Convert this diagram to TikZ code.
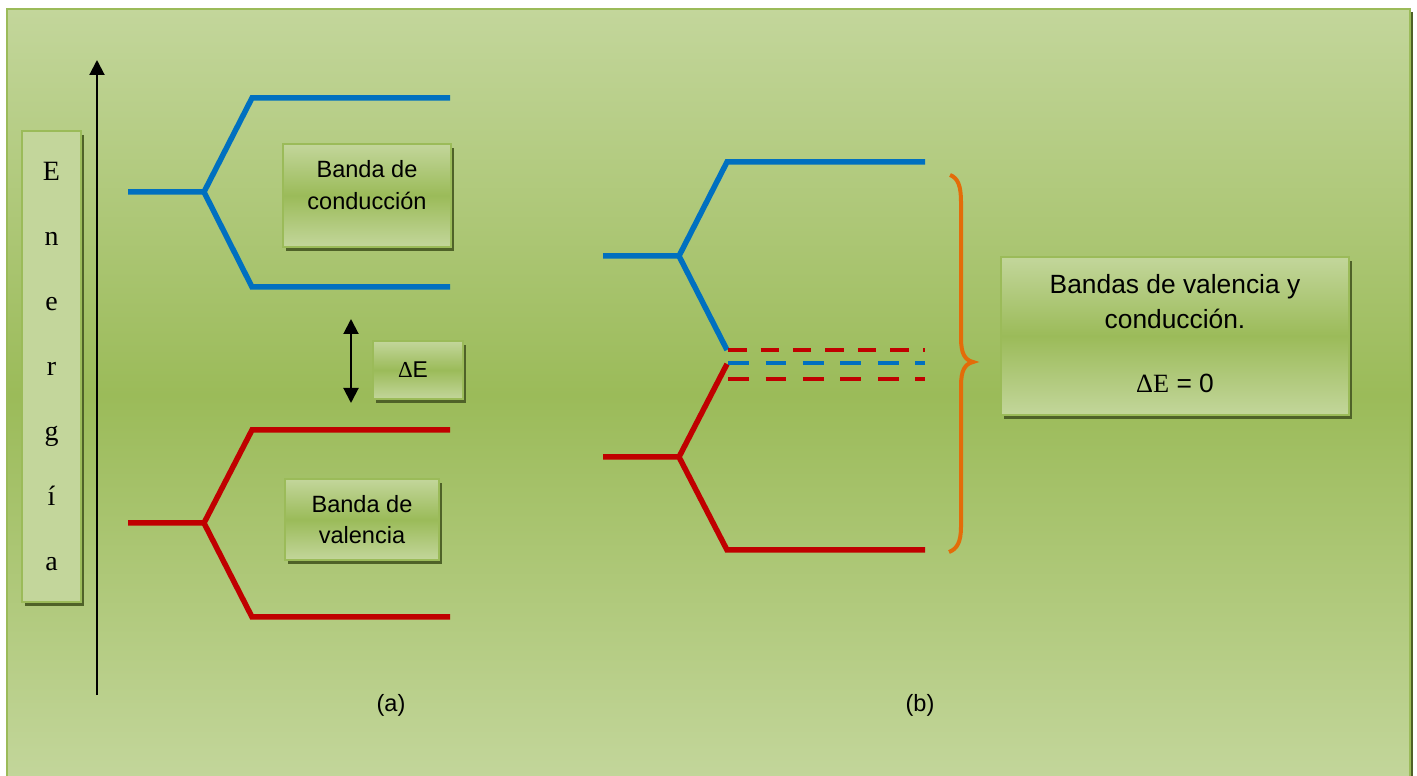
\documentclass[tikz,border=0pt]{standalone}
\usepackage{fontspec}
\setmainfont{Liberation Sans}
\newfontfamily\serifface{Liberation Serif}
\usetikzlibrary{shadows,arrows.meta}

\definecolor{bgLight}{HTML}{C3D69B}
\definecolor{bgDark}{HTML}{9BBB59}
\definecolor{frameCol}{HTML}{9BBB59}
\definecolor{shadowCol}{HTML}{4F6228}
\definecolor{bandBlue}{HTML}{0070C0}
\definecolor{bandRed}{HTML}{C00000}
\definecolor{braceOrange}{HTML}{E36C09}

\tikzset{
  boxshadow/.style={drop shadow={shadow xshift=0.06cm,shadow yshift=-0.08cm,fill=shadowCol,opacity=1}},
  textbox/.style={draw=frameCol, line width=0.05cm, top color=bgLight, bottom color=bgLight,
    middle color=bgDark, boxshadow, inner sep=0pt, align=center},
  flatbox/.style={draw=frameCol, line width=0.05cm, fill=bgLight, boxshadow, inner sep=0pt, align=center},
  bandline/.style={line width=0.11cm, line join=miter},
  bluebar/.style={bandline, draw=bandBlue},
  redbar/.style={bandline, draw=bandRed},
  axisarrow/.style={line width=0.04cm, -{Triangle[length=0.3cm,width=0.3cm]}},
  gaparrow/.style={line width=0.04cm, {Triangle[length=0.3cm,width=0.3cm]}-{Triangle[length=0.3cm,width=0.3cm]}},
  labeltext/.style={font=\fontsize{13.4}{17.9}\selectfont, align=center},
}

\begin{document}
\begin{tikzpicture}[x=0.02cm,y=-0.02cm]
  \useasboundingbox (0,0) rectangle (1417,776);
  \clip (0,0) rectangle (1417,776);

  % background panel with its frame
  \fill[top color=bgLight, bottom color=bgLight, middle color=bgDark] (7,9) rectangle (1410,781);
  \draw[shadowCol, line width=0.04cm] (1412,12) -- (1412,776);
  \draw[frameCol, line width=0.05cm] (7,781) -- (7,9) -- (1410,9) -- (1410,781);

  % energy axis
  \node[flatbox, minimum width=1.18cm, minimum height=9.42cm] (energia) at (51.5,366.5) {};
  \node[font=\serifface\fontsize{15.9}{37}\selectfont, align=center] (energiatxt) at (energia.center)
    {E\\n\\e\\r\\g\\í\\a};
  \coordinate (axisbot) at (97,695);
  \coordinate (axistop) at (97,60);
  \draw[axisarrow] (axisbot) -- (axistop);

  % (a) separated bands
  \coordinate (a-bs) at (128,192);
  \coordinate (a-bj) at (204,192);
  \coordinate (a-bu) at (252,98);
  \coordinate (a-bue) at (450,98);
  \coordinate (a-bd) at (252,287);
  \coordinate (a-bde) at (450,287);
  \draw[bluebar] (a-bs) -- (a-bj) -- (a-bu) -- (a-bue);
  \draw[bluebar] (a-bj) -- (a-bd) -- (a-bde);

  \coordinate (a-rs) at (128,523);
  \coordinate (a-rj) at (204,523);
  \coordinate (a-ru) at (252,430);
  \coordinate (a-rue) at (450,430);
  \coordinate (a-rd) at (252,617);
  \coordinate (a-rde) at (450,617);
  \draw[redbar] (a-rs) -- (a-rj) -- (a-ru) -- (a-rue);
  \draw[redbar] (a-rj) -- (a-rd) -- (a-rde);

  \node[textbox, minimum width=3.36cm, minimum height=2.06cm] (conduccion) at (367,195.5) {};
  \node[labeltext, yshift=0.21cm] (conducciontxt) at (conduccion.center) {Banda de\\conducción};
  \node[textbox, labeltext, minimum width=3.08cm, minimum height=1.62cm] (valencia) at (362,519.5)
    {Banda de\\valencia};

  \coordinate (gaptop) at (351,319);
  \coordinate (gapbot) at (351,403);
  \draw[gaparrow] (gaptop) -- (gapbot);
  \node[textbox, minimum width=1.8cm, minimum height=1.16cm] (gapbox) at (418,370) {};
  \node[font=\fontsize{13}{15}\selectfont, xshift=-0.1cm] (gaptxt) at (gapbox.center) {{\serifface Δ}E};

  \node[labeltext] (labela) at (391,705) {(a)};

  % (b) overlapping bands
  \coordinate (b-bs) at (603,256);
  \coordinate (b-bj) at (679,256);
  \coordinate (b-bu) at (727,162);
  \coordinate (b-bue) at (925,162);
  \coordinate (b-bd) at (727,350);
  \draw[bluebar] (b-bs) -- (b-bj) -- (b-bu) -- (b-bue);
  \draw[bluebar] (b-bj) -- (b-bd);

  \coordinate (b-rs) at (603,457);
  \coordinate (b-rj) at (679,457);
  \coordinate (b-ru) at (727,364);
  \coordinate (b-rd) at (727,550);
  \coordinate (b-rde) at (925,550);
  \draw[redbar] (b-rs) -- (b-rj) -- (b-rd) -- (b-rde);
  \draw[redbar] (b-rj) -- (b-ru);

  \coordinate (d1s) at (728,350);
  \coordinate (d1e) at (925,350);
  \coordinate (d2s) at (728,363);
  \coordinate (d2e) at (925,363);
  \coordinate (d3s) at (728,379);
  \coordinate (d3e) at (925,379);
  \draw[bandRed, line width=0.09cm, dash pattern=on 0.37cm off 0.28cm] (d1s) -- (d1e);
  \draw[bandBlue, line width=0.09cm, dash pattern=on 0.42cm off 0.33cm] (d2s) -- (d2e);
  \draw[bandRed, line width=0.09cm, dash pattern=on 0.42cm off 0.33cm] (d3s) -- (d3e);

  % curly brace
  \coordinate (brtop) at (950,175);
  \coordinate (brtip) at (973,362);
  \coordinate (brbot) at (949,552);
  \draw[braceOrange, line width=0.08cm]
    (brtop) .. controls (958,178) and (961,186) .. (961,202) -- (961,338)
    .. controls (961,354) and (965,360) .. (brtip)
    .. controls (965,364) and (961,370) .. (961,386) -- (961,527)
    .. controls (961,542) and (957,549) .. (brbot);

  \node[textbox, minimum width=6.96cm, minimum height=3.16cm] (resumen) at (1175,336) {};
  \node[font=\fontsize{15}{19.8}\selectfont, align=center, yshift=0.05cm] (resumentxt) at (resumen.center)
    {Bandas de valencia y\\conducción.\\[16.5pt]{\serifface ΔE} = 0};

  \node[labeltext] (labelb) at (920,705) {(b)};
\end{tikzpicture}
\end{document}
